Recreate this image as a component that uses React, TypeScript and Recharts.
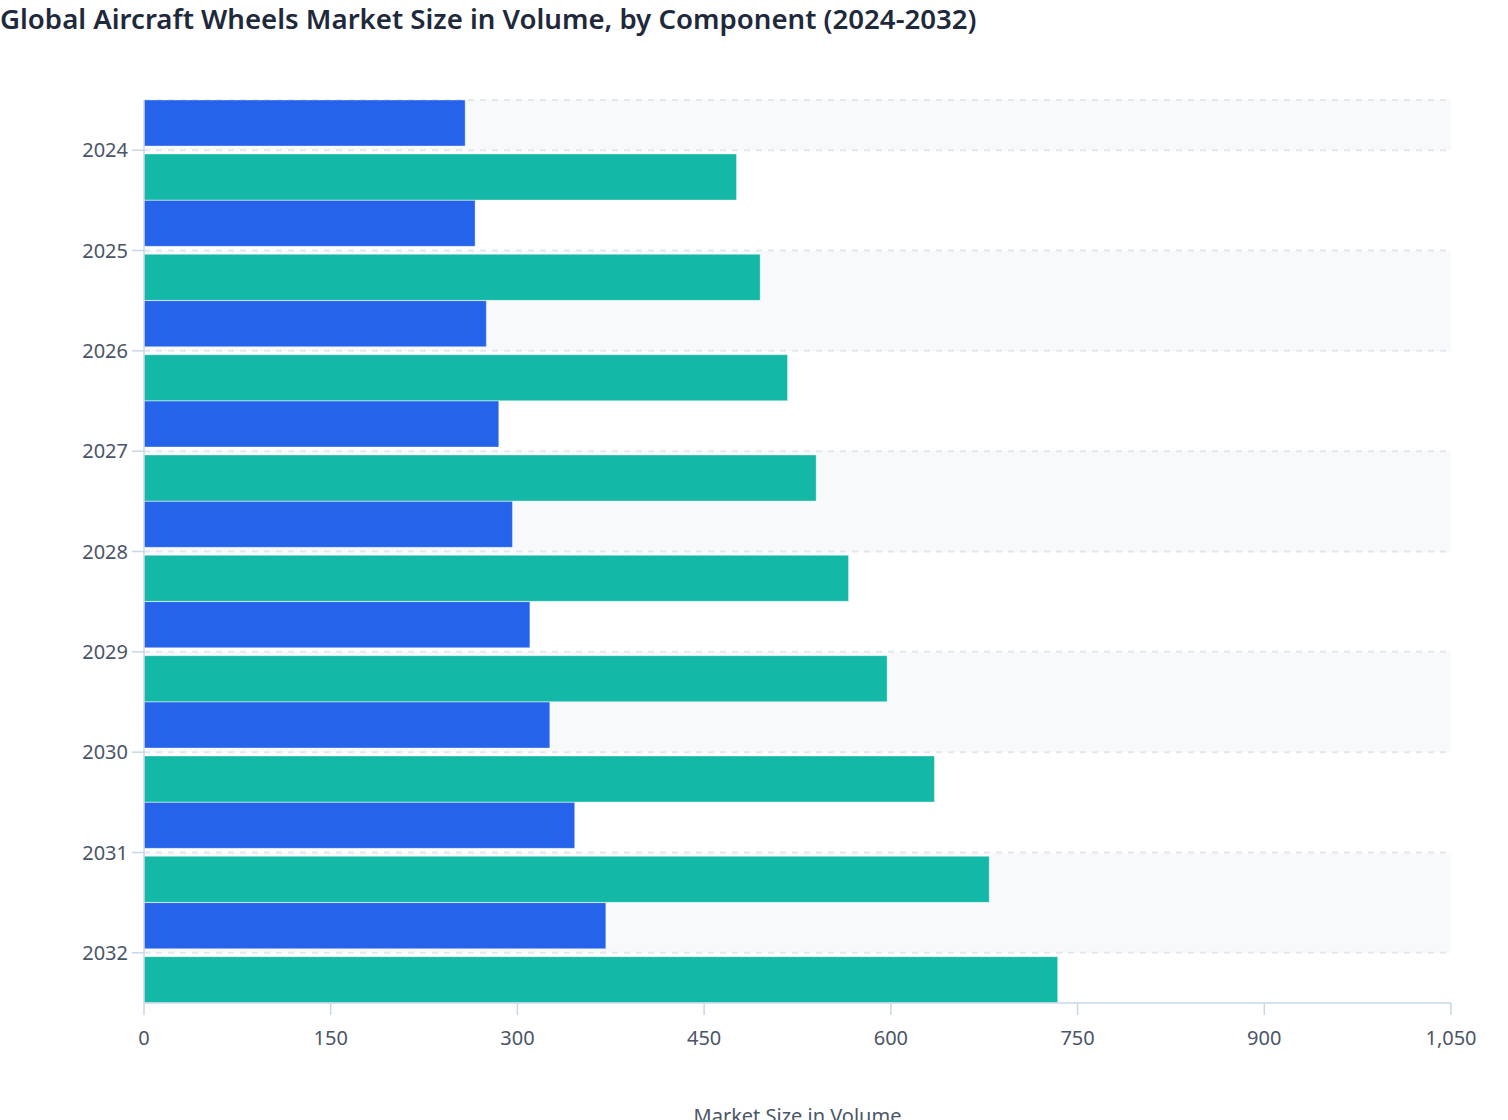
import { BarChart, Bar, XAxis, YAxis, CartesianGrid } from 'recharts';

const years = ['2024', '2025', '2026', '2027', '2028', '2029', '2030', '2031', '2032'];
const rims = [258, 266, 275, 285, 296, 310, 326, 346, 371];
const tires = [476, 495, 517, 540, 566, 597, 635, 679, 734];
const xTicks = [0, 150, 300, 450, 600, 750, 900, 1050];

const data = years.map((year, i) => ({ year, rims: rims[i], tires: tires[i] }));

const font = '"Noto Sans", "Open Sans", sans-serif';
const axisColor = '#c7d7ea';
const tickStyle = { fill: '#4a5568', fontSize: 20, fontFamily: font };

// grid line at the top of the plot plus one through each category centre
function gridRows({ offset }: any) {
  if (!offset) return [];
  const band = offset.height / years.length;
  return [offset.top, ...years.map((_, i) => offset.top + band * (i + 0.5))];
}

export default function App() {
  return (
    <div style={{ position: 'absolute', left: 0, top: 0, width: 1508, height: 1120, background: '#fff' }}>
      <div
        style={{
          position: 'absolute',
          left: 0,
          top: 0,
          fontFamily: font,
          fontSize: 27.6,
          fontWeight: 600,
          color: '#1e293b',
          lineHeight: '36px',
          whiteSpace: 'nowrap',
        }}
      >
        Global Aircraft Wheels Market Size in Volume, by Component (2024-2032)
      </div>
      <BarChart
        width={1508}
        height={1120}
        data={data}
        layout="vertical"
        margin={{ top: 100, right: 57, left: 0, bottom: 0 }}
        barCategoryGap={0}
        barGap={8}
      >
        <CartesianGrid
          vertical={false}
          strokeDasharray="6 6"
          strokeWidth={2}
          stroke="#e4e6ed"
          horizontalFill={['#f8f9fb', '#ffffff']}
          horizontalCoordinatesGenerator={gridRows}
        />
        <XAxis
          type="number"
          domain={[0, 1050]}
          ticks={xTicks}
          tickFormatter={(v: number) => v.toLocaleString('en-US')}
          tick={tickStyle}
          tickSize={12}
          tickMargin={16}
          stroke={axisColor}
          strokeWidth={1.5}
          height={117}
          label={{
            value: 'Market Size in Volume',
            position: 'insideBottom',
            offset: -3,
            fill: '#4a5568',
            fontSize: 20,
            fontFamily: font,
          }}
        />
        <YAxis
          type="category"
          dataKey="year"
          width={144}
          tick={tickStyle}
          tickSize={12}
          tickMargin={4}
          stroke={axisColor}
          strokeWidth={1.5}
        />
        <Bar dataKey="rims" name="Rims" fill="#2563eb" stroke="rgba(255,255,255,0.35)" isAnimationActive={false} />
        <Bar dataKey="tires" name="Tires" fill="#14b8a6" stroke="rgba(255,255,255,0.35)" isAnimationActive={false} />
      </BarChart>
    </div>
  );
}
